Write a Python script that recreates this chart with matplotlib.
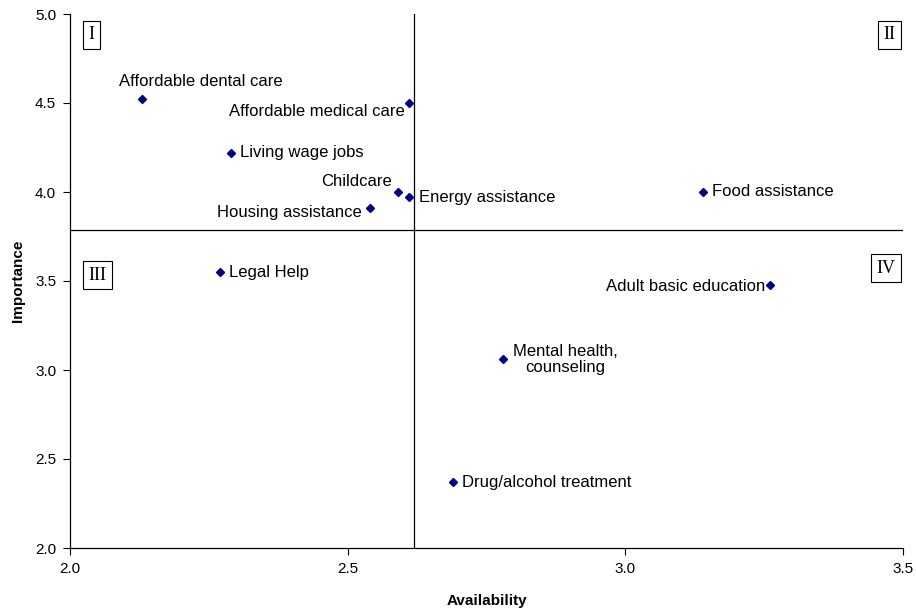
import matplotlib
matplotlib.use("Agg")
import matplotlib.pyplot as plt

plt.rcParams['font.family'] = ['Liberation Sans', 'DejaVu Sans']

labels = ["Affordable dental care", "Affordable medical care", "Living wage jobs",
          "Childcare", "Energy assistance", "Housing assistance", "Food assistance",
          "Legal Help", "Adult basic education", "Mental health,\ncounseling",
          "Drug/alcohol treatment"]
availability = [2.13, 2.61, 2.29, 2.59, 2.61, 2.54, 3.14, 2.27, 3.26, 2.78, 2.69]
importance = [4.52, 4.50, 4.22, 4.00, 3.97, 3.91, 4.00, 3.55, 3.48, 3.06, 2.37]
avail_mean = 2.62
imp_mean = 3.785
quadrants = ["I", "II", "III", "IV"]

# label offsets (pixels) and alignment
offsets = [(-23, 18, 'left'), (-4, -9, 'right'), (9, 0, 'left'), (-6, 11, 'right'),
           (10, 0, 'left'), (-8, -4, 'right'), (9, 0, 'left'), (9, 0, 'left'),
           (-4, -2, 'right'), (10, 0, 'left'), (9, 0, 'left')]

fig = plt.figure(figsize=(9.16, 6.10), dpi=100)
ax = fig.add_axes([70/916, 1-548/610, 833/916, 534/610])

ax.axvline(avail_mean, color='black', lw=0.9)
ax.axhline(imp_mean, color='black', lw=0.9)

ax.plot(availability, importance, linestyle='none', marker='D', markersize=4.5,
        color='#000080', zorder=3)

for lab, x, y, (dx, dy, ha) in zip(labels, availability, importance, offsets):
    ax.annotate(lab, (x, y), xytext=(dx, dy), textcoords='offset pixels',
                ha=ha, va='center', fontsize=12, multialignment='center',
                color='black', linespacing=1.1)

qpos = [(0.0221, 0.9607, 'left'), (0.9911, 0.9607, 'right'),
        (0.0221, 0.5112, 'left'), (0.9911, 0.5243, 'right')]
for q, (qx, qy, ha) in zip(quadrants, qpos):
    ax.text(qx, qy, q, transform=ax.transAxes, ha=ha, va='center',
            family='Liberation Serif', fontsize=13,
            bbox=dict(boxstyle='square,pad=0.3', fc='white', ec='black', lw=0.8))

ax.set_xlim(2.0, 3.5)
ax.set_ylim(2.0, 5.0)
ax.set_xticks([2.0, 2.5, 3.0, 3.5])
ax.set_yticks([2.0, 2.5, 3.0, 3.5, 4.0, 4.5, 5.0])
ax.xaxis.set_major_formatter(matplotlib.ticker.FormatStrFormatter('%.1f'))
ax.yaxis.set_major_formatter(matplotlib.ticker.FormatStrFormatter('%.1f'))
ax.tick_params(labelsize=11, length=5, width=0.8, direction='out', pad=5)
for s in ['top', 'right']:
    ax.spines[s].set_visible(False)
for s in ['left', 'bottom']:
    ax.spines[s].set_linewidth(0.9)

ax.set_xlabel('Availability', fontsize=11, fontweight='bold', labelpad=13)
ax.set_ylabel('Importance', fontsize=11, fontweight='bold', labelpad=7)

fig.savefig('out.png', dpi=100)
